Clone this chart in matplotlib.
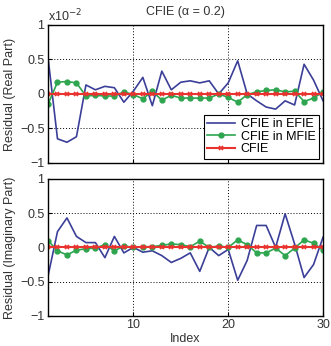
import numpy as np
import matplotlib
matplotlib.use("Agg")
import matplotlib.pyplot as plt

plt.rcParams['font.family'] = ['Liberation Sans', 'DejaVu Sans']

idx = np.arange(1, 31)

efie_real = [0.53, -0.65, -0.70, -0.62, 0.13, 0.06, 0.11, 0.09, -0.12, 0.04,
             0.24, -0.17, 0.33, 0.06, 0.17, 0.19, 0.16, 0.19, 0.0, 0.16,
             0.48, 0.0, -0.10, -0.19, -0.22, -0.10, -0.16, 0.43, 0.20, -0.10]
mfie_real = [-0.15, 0.17, 0.18, 0.16, -0.03, -0.02, -0.03, -0.03, 0.03, -0.01,
             -0.07, 0.04, -0.09, -0.02, -0.06, -0.06, -0.06, -0.06, 0.0, -0.05,
             -0.12, -0.01, 0.03, 0.05, 0.06, 0.03, 0.04, -0.11, -0.06, 0.03]
cfie_real = [0.0] * 30

efie_imag = [-0.42, 0.23, 0.43, 0.16, 0.07, 0.07, -0.15, 0.16, -0.08, 0.0,
             -0.07, -0.05, -0.12, -0.22, -0.16, -0.08, -0.35, 0.0, -0.12, -0.03,
             -0.48, -0.19, 0.32, 0.32, 0.0, 0.49, 0.05, -0.44, -0.25, 0.15]
mfie_imag = [0.10, -0.05, -0.11, -0.04, -0.02, -0.01, 0.04, -0.05, 0.02, 0.0,
             0.01, 0.01, 0.03, 0.05, 0.04, 0.01, 0.09, 0.0, 0.02, 0.0,
             0.11, 0.04, -0.08, -0.08, -0.01, -0.12, -0.01, 0.11, 0.06, -0.04]
cfie_imag = [0.0] * 30

yticks = [-1, -0.5, 0, 0.5, 1]
yticklabels = ["\u22121", "\u22120.5", "0", "0.5", "1"]
xticks = [10, 20, 30]

blue = "#3b3f98"
green = "#2ea54f"
red = "#e8332e"
txt = "#333333"
fs = 9

fig = plt.figure(figsize=(3.31, 3.46), dpi=100)
ax1 = fig.add_axes([0.145, 0.529, 0.831, 0.399])
ax2 = fig.add_axes([0.145, 0.087, 0.831, 0.396])

def style(ax, labels=True):
    ax.set_xlim(1, 30)
    ax.set_ylim(-1, 1)
    ax.set_yticks(yticks)
    ax.set_yticklabels(yticklabels)
    ax.set_xticks(xticks)
    if not labels:
        ax.set_xticklabels([])
    ax.grid(True, color="black", linestyle=(0, (1, 2)), linewidth=0.7)
    ax.tick_params(labelsize=fs, direction="in", length=3, color="black",
                   labelcolor=txt, pad=2.5)
    for s in ax.spines.values():
        s.set_linewidth(1.0)

for ax, e, m, c in [(ax1, efie_real, mfie_real, cfie_real),
                    (ax2, efie_imag, mfie_imag, cfie_imag)]:
    ax.plot(idx, e, color=blue, lw=1.2, label="CFIE in EFIE")
    ax.plot(idx, m, color=green, lw=1.2, marker="o", markersize=3.5, label="CFIE in MFIE")
    ax.plot(idx, c, color=red, lw=1.5, marker="x", markersize=3.5, mew=1.2, label="CFIE")

style(ax1, labels=False)
style(ax2, labels=True)

ax1.set_ylabel("Residual (Real Part)", fontsize=fs, color=txt, labelpad=3)
ax2.set_ylabel("Residual (Imaginary Part)", fontsize=fs, color=txt, labelpad=3)
ax2.set_xlabel("Index", fontsize=fs, color=txt, labelpad=1)
ax1.set_title("CFIE (\u03b1 = 0.2)", fontsize=fs, color=txt, pad=7)
ax1.text(0.0, 1.005, r"x10$^{-2}$", transform=ax1.transAxes, fontsize=fs,
         ha="left", va="bottom", color=txt)

leg = ax1.legend(loc="lower right", fontsize=fs, frameon=True, fancybox=False,
                 edgecolor="black", framealpha=1, borderaxespad=0.35,
                 handlelength=2.2, handletextpad=0.5, labelspacing=0.05, borderpad=0.25)
leg.get_frame().set_linewidth(0.8)

fig.savefig("out.png", dpi=100)
